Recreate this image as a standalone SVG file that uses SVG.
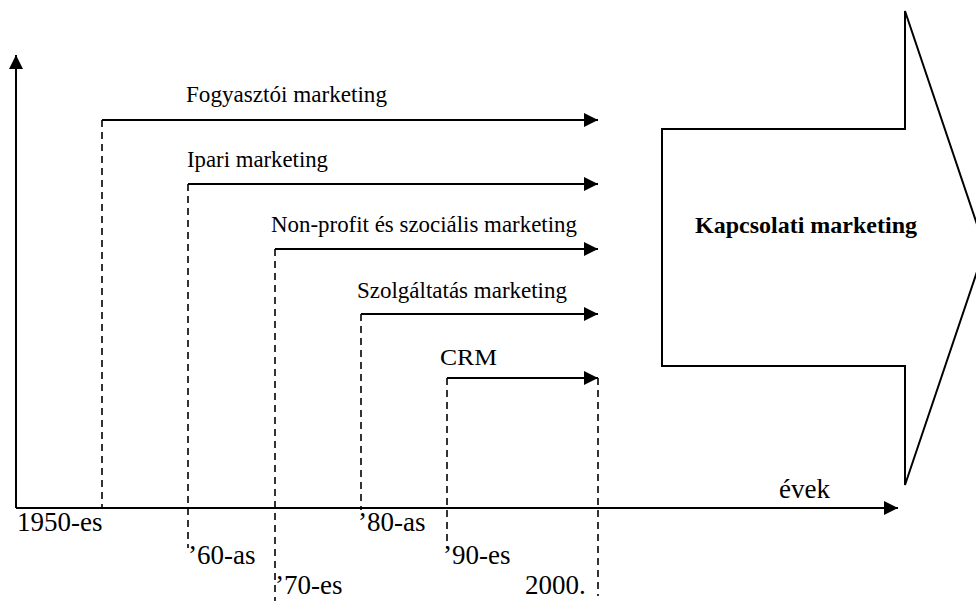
<svg xmlns="http://www.w3.org/2000/svg" width="976" height="601" viewBox="0 0 976 601">
  <style>
    .line { stroke: #000; stroke-width: 2; fill: none; }
    .dash { stroke: #000; stroke-width: 1.6; fill: none; stroke-dasharray: 7 5; }
    .lbl { font-family: "Liberation Serif", "Times New Roman", serif; font-size: 24px; fill: #000; }
    .yr { font-family: "Liberation Serif", "Times New Roman", serif; font-size: 27px; fill: #000; }
    .bold { font-family: "Liberation Serif", "Times New Roman", serif; font-size: 24px; font-weight: bold; fill: #000; }
  </style>
  <defs>
    <marker id="head" viewBox="0 0 14 14" refX="14" refY="7" markerWidth="14" markerHeight="14" markerUnits="userSpaceOnUse" orient="auto">
      <path d="M0,0 L14,7 L0,14 Z" fill="#000"/>
    </marker>
  </defs>

  <rect width="976" height="601" fill="#fff"/>

  <!-- axes -->
  <g id="axes">
    <line class="line" x1="16" y1="508" x2="16" y2="55" marker-end="url(#head)"/>
    <line class="line" x1="16" y1="508" x2="898" y2="508" marker-end="url(#head)"/>
    <text class="yr" x="779" y="498">évek</text>
  </g>

  <!-- big arrow -->
  <g id="kapcsolati">
    <polygon points="662,129 905,129 905,11 985,248 905,485 905,366 662,366" fill="#fff" stroke="#000" stroke-width="2"/>
    <text class="bold" x="695" y="233" textLength="222" lengthAdjust="spacingAndGlyphs">Kapcsolati marketing</text>
  </g>

  <!-- connectors: period arrows and dashed year guides -->
  <g id="connectors">
    <line class="dash" x1="102" y1="120" x2="102" y2="508"/>
    <line class="dash" x1="188" y1="184" x2="188" y2="548"/>
    <line class="dash" x1="275" y1="249" x2="275" y2="601"/>
    <line class="dash" x1="361" y1="314" x2="361" y2="510"/>
    <line class="dash" x1="447" y1="378" x2="447" y2="548"/>
    <line class="dash" x1="598" y1="378" x2="598" y2="596"/>

    <line class="line" x1="102" y1="120" x2="598" y2="120" marker-end="url(#head)"/>
    <line class="line" x1="188" y1="184" x2="598" y2="184" marker-end="url(#head)"/>
    <line class="line" x1="275" y1="249" x2="598" y2="249" marker-end="url(#head)"/>
    <line class="line" x1="361" y1="314" x2="598" y2="314" marker-end="url(#head)"/>
    <line class="line" x1="447" y1="378" x2="598" y2="378" marker-end="url(#head)"/>
  </g>

  <g id="fogyasztoi">
    <text class="lbl" x="186" y="102" textLength="201" lengthAdjust="spacingAndGlyphs">Fogyasztói marketing</text>
  </g>
  <g id="ipari">
    <text class="lbl" x="187" y="167" textLength="141" lengthAdjust="spacingAndGlyphs">Ipari marketing</text>
  </g>
  <g id="nonprofit">
    <text class="lbl" x="271" y="232" textLength="306" lengthAdjust="spacingAndGlyphs">Non-profit és szociális marketing</text>
  </g>
  <g id="szolgaltatas">
    <text class="lbl" x="357" y="298" textLength="210" lengthAdjust="spacingAndGlyphs">Szolgáltatás marketing</text>
  </g>
  <g id="crm">
    <text class="lbl" x="440" y="365" textLength="57" lengthAdjust="spacingAndGlyphs">CRM</text>
  </g>

  <!-- year labels -->
  <g id="years">
    <text class="yr" x="17" y="531">1950-es</text>
    <text class="yr" x="188" y="564">’60-as</text>
    <text class="yr" x="275" y="594">’70-es</text>
    <text class="yr" x="358" y="531">’80-as</text>
    <text class="yr" x="443" y="564">’90-es</text>
    <text class="yr" x="525" y="594">2000.</text>
  </g>
</svg>
